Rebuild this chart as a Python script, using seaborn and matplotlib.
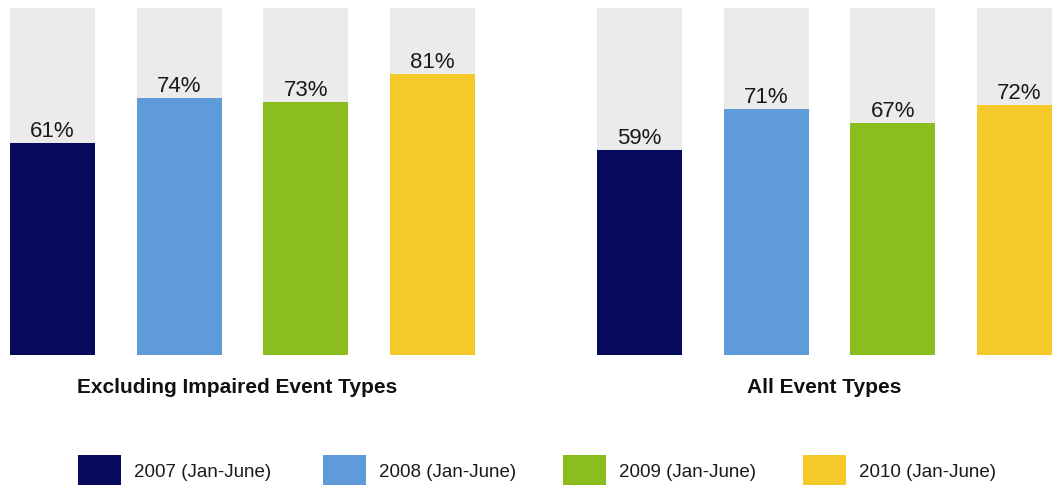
import matplotlib
matplotlib.use("Agg")
import matplotlib.pyplot as plt
from matplotlib.patches import Patch
import seaborn as sns
import pandas as pd

# Data
periods = ["2007 (Jan-June)", "2008 (Jan-June)", "2009 (Jan-June)", "2010 (Jan-June)"]
excluding_impaired = [61, 74, 73, 81]
all_event_types = [59, 71, 67, 72]
panel_titles = ["Excluding Impaired Event Types", "All Event Types"]
full_scale = [100, 100, 100, 100]

colors = ["#050A5C", "#5E9BD8", "#8BBD1F", "#F5C92A"]
track_color = "#EBEBEB"

sns.set_theme(style="white")
plt.rcParams["font.family"] = ["Liberation Sans", "DejaVu Sans"]

W, H = 1052, 489
fig = plt.figure(figsize=(W / 100, H / 100), dpi=100)
fig.patch.set_facecolor("white")

bottom = 1 - 356 / H
height = 347 / H
step = 126.7
bar_w = 85 / step

# (left px, right px, first bar centre px) for each panel
panels = [(0, 500, 52.5), (560, 1052, 639.5)]
series = [excluding_impaired, all_event_types]
title_x = [237.5, 824.5]

for (lpx, rpx, c0), vals, title, tx in zip(panels, series, panel_titles, title_x):
    ax = fig.add_axes([lpx / W, bottom, (rpx - lpx) / W, height])
    df = pd.DataFrame({"period": periods, "value": vals, "full": full_scale})
    sns.barplot(data=df, x="period", y="full", color=track_color, saturation=1,
                width=bar_w, ax=ax)
    sns.barplot(data=df, x="period", y="value", hue="period", palette=colors,
                saturation=1, width=bar_w, legend=False, dodge=False, ax=ax)
    for p in ax.patches:
        p.set_edgecolor("none")
        p.set_linewidth(0)
    for i, v in enumerate(vals):
        ax.text(i, v + 2.0, f"{v}%", ha="center", va="baseline",
                fontsize=16, color="#1a1a1a")
    ax.set_xlim(-c0 / step + lpx / step, (rpx - c0) / step)
    ax.set_ylim(0, 100)
    ax.set_axis_off()
    fig.text(tx / W, 1 - 393 / H, title, ha="center", va="baseline",
             fontsize=15, fontweight="bold", color="#111111")

# Legend: one entry per period, spaced across the bottom
legend_x = [78, 323, 563, 803]
for lx, lab, col in zip(legend_x, periods, colors):
    leg = fig.legend(handles=[Patch(facecolor=col, edgecolor="none", label=lab)],
                     loc="center left", bbox_to_anchor=(lx / W, 1 - 471 / H),
                     frameon=False, fontsize=13.5, handlelength=2.3,
                     handleheight=2.1, handletextpad=0.7, borderpad=0,
                     borderaxespad=0)
    for t in leg.get_texts():
        t.set_color("#1a1a1a")

fig.savefig("out.png", dpi=100, facecolor="white")
